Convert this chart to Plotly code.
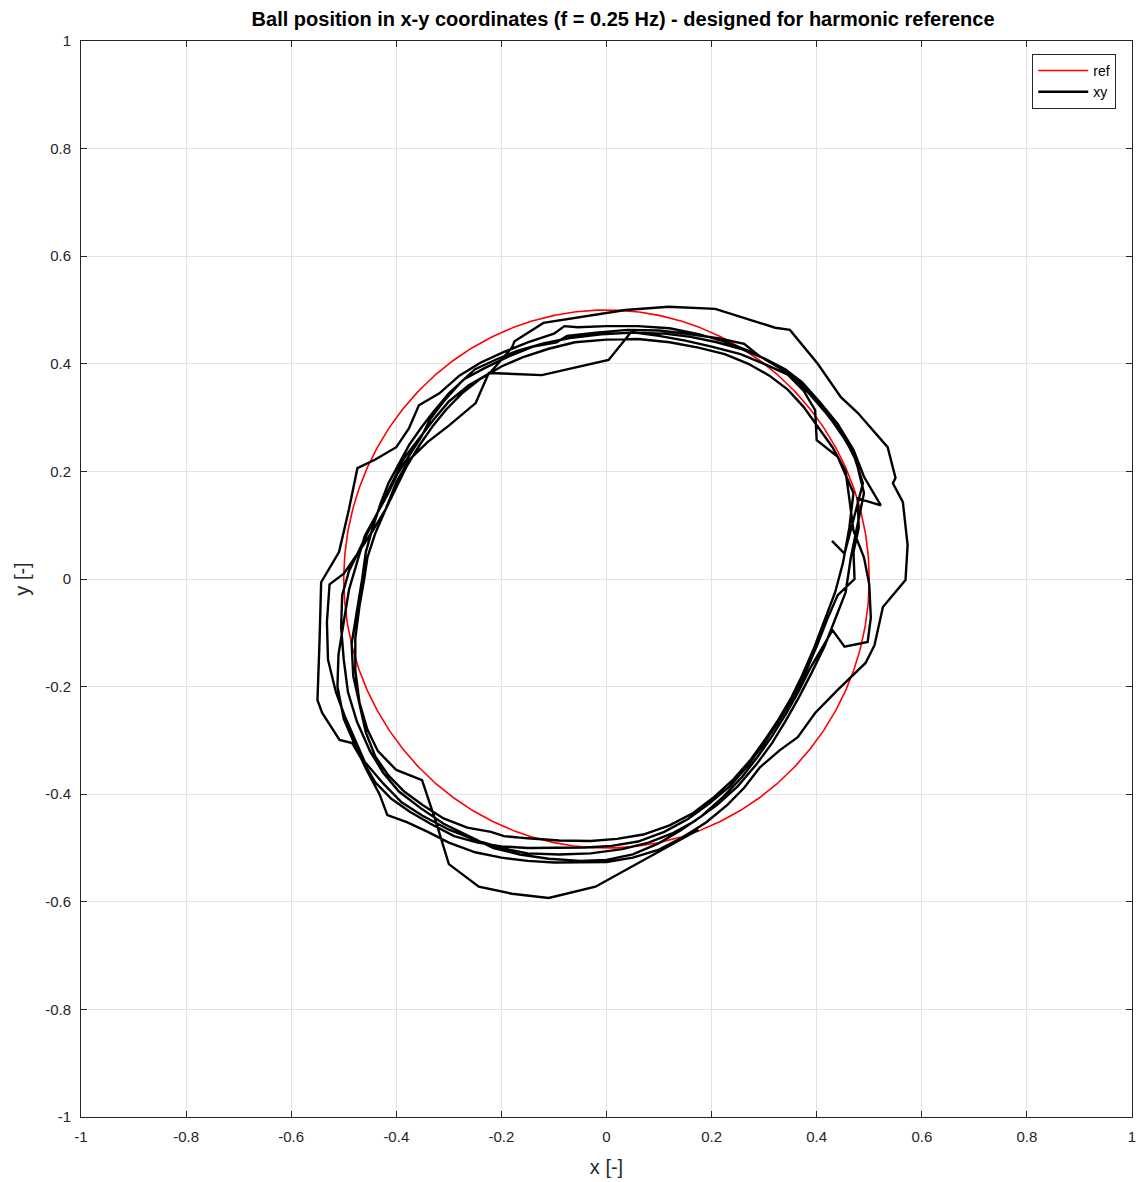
import numpy as np
import plotly.graph_objects as go

# ---------------- data ----------------
title_text = "Ball position in x-y coordinates (f = 0.25 Hz) - designed for harmonic reference"
tick_vals = [-1, -0.8, -0.6, -0.4, -0.2, 0, 0.2, 0.4, 0.6, 0.8, 1]
tick_labels = ["-1", "-0.8", "-0.6", "-0.4", "-0.2", "0", "0.2", "0.4", "0.6", "0.8", "1"]

ref_radius = 0.5
ref_center = (0.0, 0.0)

lap1 = [(0.429,0.071),(0.453,0.047),(0.472,0.118),(0.488,0.178),(0.470,0.232),(0.452,0.262),(0.425,0.300),
        (0.403,0.330),(0.372,0.362),(0.330,0.392),(0.290,0.415),(0.262,0.437),(0.215,0.447),(0.160,0.455),
        (0.100,0.462),(0.040,0.463),(-0.020,0.458),(-0.075,0.452),(-0.095,0.440),(-0.140,0.432),(-0.190,0.412),
        (-0.232,0.392),(-0.270,0.372),(-0.300,0.345),(-0.330,0.310),(-0.352,0.282),(-0.375,0.250),(-0.395,0.215),
        (-0.415,0.178),(-0.430,0.140),(-0.445,0.095),(-0.458,0.050),(-0.465,0.000),(-0.475,-0.060),(-0.485,-0.120),
        (-0.482,-0.180),(-0.470,-0.235),(-0.458,-0.285),(-0.440,-0.330),(-0.415,-0.365),(-0.385,-0.395),
        (-0.350,-0.420),(-0.310,-0.445),(-0.265,-0.462),(-0.220,-0.470),(-0.195,-0.478),(-0.150,-0.482),
        (-0.090,-0.486),(-0.030,-0.487),(0.020,-0.483),(0.070,-0.475),(0.120,-0.458),(0.165,-0.435),(0.205,-0.405),
        (0.242,-0.372),(0.275,-0.335),(0.302,-0.298),(0.328,-0.260),(0.352,-0.220),(0.372,-0.180),(0.395,-0.128),
        (0.415,-0.075),(0.435,-0.025),(0.450,0.030)]
lap2 = [(0.462,0.095),(0.470,0.160),(0.440,0.227),(0.400,0.258),(0.397,0.314),(0.375,0.350),(0.345,0.380),
        (0.300,0.400),(0.255,0.418),(0.200,0.432),(0.150,0.443),(0.100,0.452),(0.047,0.459),(0.004,0.407),
        (-0.060,0.393),(-0.123,0.379),(-0.224,0.383),(-0.249,0.327),(-0.300,0.285),(-0.340,0.255),(-0.376,0.221),
        (-0.400,0.180),(-0.420,0.130),(-0.448,0.085),(-0.475,0.045),(-0.500,0.010),(-0.527,-0.010),(-0.532,-0.080),
        (-0.530,-0.150),(-0.515,-0.210),(-0.498,-0.255),(-0.478,-0.300),(-0.460,-0.340),(-0.425,-0.380),
        (-0.390,-0.415),(-0.350,-0.440),(-0.300,-0.466),(-0.250,-0.485),(-0.200,-0.500),(-0.150,-0.510),
        (-0.090,-0.512),(-0.030,-0.510),(0.030,-0.502),(0.080,-0.490),(0.125,-0.473),(0.168,-0.450),(0.210,-0.420),
        (0.250,-0.385),(0.285,-0.345),(0.315,-0.305),(0.340,-0.265),(0.365,-0.222),(0.390,-0.175),(0.415,-0.125),
        (0.435,-0.075),(0.455,-0.025),(0.465,0.040)]
lap3 = [(0.478,0.100),(0.490,0.160),(0.475,0.220),(0.450,0.268),(0.418,0.308),(0.388,0.342),(0.352,0.378),
        (0.310,0.405),(0.268,0.425),(0.222,0.442),(0.175,0.455),(0.120,0.466),(0.060,0.470),(0.000,0.470),
        (-0.055,0.468),(-0.080,0.470),(-0.100,0.456),(-0.150,0.440),(-0.195,0.422),(-0.240,0.402),(-0.280,0.378),
        (-0.318,0.345),(-0.357,0.323),(-0.376,0.280),(-0.400,0.245),(-0.440,0.222),(-0.474,0.206),(-0.490,0.130),
        (-0.509,0.050),(-0.530,0.015),(-0.543,-0.006),(-0.546,-0.113),(-0.550,-0.225),(-0.541,-0.249),
        (-0.508,-0.299),(-0.484,-0.305),(-0.465,-0.336),(-0.440,-0.378),(-0.410,-0.408),(-0.375,-0.432),
        (-0.335,-0.455),(-0.290,-0.478),(-0.245,-0.490),(-0.200,-0.497),(-0.150,-0.500),(-0.100,-0.500),
        (-0.040,-0.499),(0.010,-0.496),(0.060,-0.488),(0.110,-0.470),(0.155,-0.446),(0.195,-0.418),(0.235,-0.385),
        (0.268,-0.348),(0.298,-0.308),(0.325,-0.268),(0.352,-0.225),(0.378,-0.175),(0.400,-0.125),(0.420,-0.075),
        (0.440,-0.030),(0.472,0.000),(0.470,0.050)]
lap4 = [(0.480,0.095),(0.478,0.150),(0.522,0.137),(0.490,0.190),(0.470,0.240),(0.440,0.288),(0.405,0.330),
        (0.372,0.366),(0.340,0.390),(0.300,0.410),(0.255,0.428),(0.210,0.440),(0.160,0.450),(0.110,0.456),
        (0.050,0.458),(-0.010,0.455),(-0.070,0.448),(-0.120,0.438),(-0.170,0.424),(-0.210,0.408),(-0.250,0.390),
        (-0.278,0.365),(-0.310,0.330),(-0.335,0.298),(-0.352,0.265),(-0.375,0.230),(-0.398,0.195),(-0.415,0.160),
        (-0.438,0.120),(-0.460,0.080),(-0.475,0.030),(-0.490,-0.020),(-0.500,-0.080),(-0.510,-0.140),
        (-0.512,-0.200),(-0.500,-0.260),(-0.478,-0.310),(-0.458,-0.352),(-0.432,-0.400),(-0.417,-0.439),
        (-0.380,-0.452),(-0.340,-0.470),(-0.300,-0.490),(-0.250,-0.508),(-0.200,-0.518),(-0.150,-0.524),
        (-0.100,-0.527),(-0.050,-0.527),(0.000,-0.526),(0.050,-0.518),(0.100,-0.503),(0.145,-0.480),(0.190,-0.452),
        (0.230,-0.420),(0.262,-0.388),(0.292,-0.350),(0.330,-0.318),(0.364,-0.294),(0.397,-0.249),(0.440,-0.206),
        (0.493,-0.156),(0.510,-0.123),(0.526,-0.052),(0.569,-0.002)]
lap5 = [(0.573,0.063),(0.564,0.143),(0.545,0.178),(0.550,0.188),(0.535,0.245),(0.478,0.309),(0.446,0.338),
        (0.402,0.400),(0.349,0.463),(0.321,0.467),(0.275,0.481),(0.207,0.502),(0.118,0.506),(0.036,0.500),
        (-0.120,0.476),(-0.175,0.442),(-0.180,0.430),(-0.222,0.383),(-0.262,0.360),(-0.300,0.330),(-0.330,0.295),
        (-0.358,0.260),(-0.385,0.225),(-0.405,0.185),(-0.425,0.145),(-0.448,0.100),(-0.470,0.055),(-0.490,0.015),
        (-0.503,-0.030),(-0.505,-0.090),(-0.500,-0.150),(-0.492,-0.210),(-0.475,-0.265),(-0.450,-0.320),
        (-0.425,-0.360),(-0.395,-0.395),(-0.355,-0.425),(-0.310,-0.455),(-0.262,-0.478),(-0.215,-0.500),
        (-0.165,-0.512),(-0.110,-0.520),(-0.050,-0.524),(0.000,-0.522),(0.050,-0.512),(0.098,-0.492),
        (0.140,-0.468),(0.182,-0.440),(0.222,-0.405),(0.258,-0.368),(0.288,-0.330),(0.315,-0.292),(0.342,-0.250),
        (0.365,-0.210),(0.388,-0.165),(0.410,-0.128),(0.430,-0.095),(0.453,-0.126),(0.497,-0.117),(0.503,-0.072),
        (0.500,-0.010),(0.490,0.040)]
lap6 = [(0.470,0.090),(0.462,0.150),(0.455,0.200),(0.430,0.245),(0.400,0.285),(0.375,0.320),(0.345,0.352),
        (0.310,0.378),(0.270,0.400),(0.225,0.418),(0.175,0.430),(0.120,0.440),(0.060,0.446),(0.000,0.445),
        (-0.060,0.440),(-0.110,0.428),(-0.160,0.412),(-0.200,0.395),(-0.240,0.372),(-0.275,0.345),(-0.305,0.315),
        (-0.330,0.285),(-0.355,0.250),(-0.380,0.210),(-0.400,0.170),(-0.420,0.130),(-0.440,0.085),(-0.455,0.040),
        (-0.461,0.000),(-0.470,-0.050),(-0.478,-0.110),(-0.478,-0.170),(-0.470,-0.230),(-0.455,-0.280),
        (-0.435,-0.320),(-0.400,-0.355),(-0.351,-0.374),(-0.325,-0.450),(-0.300,-0.530),(-0.243,-0.572),
        (-0.180,-0.585),(-0.110,-0.593),(-0.021,-0.572),(0.080,-0.518),(0.175,-0.466)]

laps = [lap1, lap2, lap3, lap4, lap5, lap6]
xy_x = [p[0] for lap in laps for p in lap]
xy_y = [p[1] for lap in laps for p in lap]

# reference circle (radius 0.5 about origin)
theta = np.linspace(0, 2 * np.pi, 721)
ref_x = ref_center[0] + ref_radius * np.cos(theta)
ref_y = ref_center[1] + ref_radius * np.sin(theta)

# ---------------- figure ----------------
FONT = "Liberation Sans, Arial, sans-serif"
W, H = 1137, 1182
fig = go.Figure()
fig.add_trace(go.Scatter(x=ref_x, y=ref_y, mode="lines", name="ref",
                         line=dict(color="#ff0000", width=1.6)))
fig.add_trace(go.Scatter(x=xy_x, y=xy_y, mode="lines", name="xy",
                         line=dict(color="#000000", width=2.4)))

axis_common = dict(
    range=[-1, 1], tickvals=tick_vals, ticktext=tick_labels,
    showgrid=True, gridcolor="#e3e3e3", gridwidth=1,
    zeroline=False, showline=True, linecolor="#262626", linewidth=1,
    mirror="ticks", ticks="inside", ticklen=6, tickcolor="#262626",
    tickfont=dict(family=FONT, size=15, color="#262626"),
    automargin=False, ticklabelstandoff=6, ticklabeloverflow="allow",
)

fig.update_layout(
    width=W, height=H, autosize=False,
    margin=dict(l=81, r=5, t=41, b=65, autoexpand=False),
    paper_bgcolor="white", plot_bgcolor="white",
    title=dict(text="<b>" + title_text + "</b>", x=0.548, xanchor="center",
               y=0.9843, yanchor="middle", automargin=False,
               font=dict(family=FONT, size=20, color="#000000")),
    xaxis=dict(**axis_common,
               title=dict(text="x [-]", standoff=15,
                          font=dict(family=FONT, size=20, color="#262626"))),
    yaxis=dict(**axis_common,
               title=dict(text="y [-]", standoff=10,
                          font=dict(family=FONT, size=20, color="#262626"))),
    legend=dict(x=0.985, y=0.988, xanchor="right", yanchor="top",
                bgcolor="white", bordercolor="#262626", borderwidth=1,
                font=dict(family=FONT, size=14, color="#000000"),
                itemwidth=50, tracegroupgap=0),
    showlegend=True,
)

post = ("document.body.style.margin='0';document.body.style.padding='0';"
        "document.body.style.overflow='hidden';"
        "var gd=document.getElementById('{plot_id}');"
        "Plotly.relayout(gd,{width:%d,height:%d});" % (W, H))

fig.write_html("out.html", config={"responsive": False, "displayModeBar": False},
               post_script=post)
